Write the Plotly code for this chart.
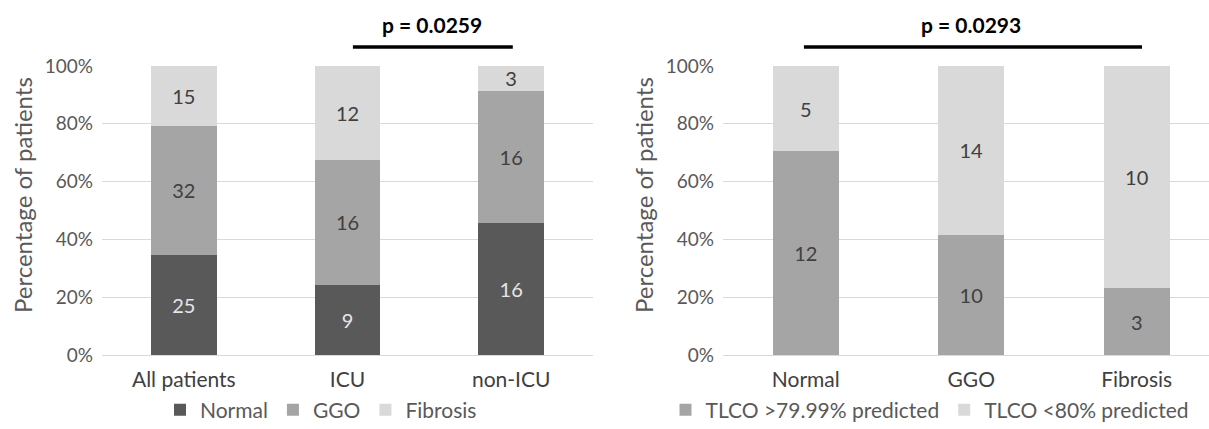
import plotly.graph_objects as go

# ---- data ----
groups_left = ["All patients", "ICU", "non-ICU"]
normal = [25, 9, 16]
ggo = [32, 16, 16]
fibrosis = [15, 12, 3]

groups_right = ["Normal", "GGO", "Fibrosis"]
tlco_high = [12, 10, 3]
tlco_low = [5, 14, 10]

p_left = "p = 0.0259"
p_right = "p = 0.0293"
y_title = "Percentage of patients"
y_ticks = [0, 20, 40, 60, 80, 100]
y_tick_labels = ["0%", "20%", "40%", "60%", "80%", "100%"]

# ---- style ----
FONT = "Lato"
C_DARK = "#595959"
C_MID = "#a5a5a5"
C_LIGHT = "#d9d9d9"
TXT = "#595959"
W, H = 1209, 429
TOP, BOT = 66, 355          # pixel rows of 100% and 0%
PH = BOT - TOP

def py(pix):  # pixel row -> paper y
    return (BOT - pix) / PH

fig = go.Figure()

def add_bar(x, y, name, color, txtcolor, xa, ya, legend):
    fig.add_trace(go.Bar(
        x=x, y=y, name=name, marker=dict(color=color, line=dict(width=0)),
        text=[str(v) for v in y], textposition="inside", insidetextanchor="middle",
        textangle=0, constraintext="none",
        textfont=dict(family=FONT, size=20, color=txtcolor),
        xaxis=xa, yaxis=ya, legend=legend, hoverinfo="skip",
    ))

add_bar(groups_left, normal, "Normal", C_DARK, "#e6e6e6", "x", "y", "legend")
add_bar(groups_left, ggo, "GGO", C_MID, "#404040", "x", "y", "legend")
add_bar(groups_left, fibrosis, "Fibrosis", C_LIGHT, "#404040", "x", "y", "legend")
add_bar(groups_right, tlco_high, "TLCO >79.99% predicted", C_MID, "#404040", "x2", "y2", "legend2")
add_bar(groups_right, tlco_low, "TLCO <80% predicted", C_LIGHT, "#404040", "x2", "y2", "legend2")

axis_y = dict(range=[0, 100], tickvals=y_ticks, ticktext=y_tick_labels,
              showgrid=True, gridcolor="#d9d9d9", gridwidth=1, zeroline=False,
              showline=False, ticks="", ticklabelstandoff=8, automargin=False,
              tickfont=dict(family=FONT, size=19, color=TXT),
              domain=[0, 1])
axis_x = dict(showgrid=False, showline=True, linecolor="#d9d9d9", linewidth=1,
              ticks="", automargin=False, ticklabelstandoff=6,
              tickfont=dict(family=FONT, size=21, color="#404040"))

leg_y = py(410)
fig.update_layout(
    width=W, height=H, margin=dict(l=0, r=0, t=TOP, b=H - BOT, autoexpand=False),
    paper_bgcolor="white", plot_bgcolor="white",
    barmode="stack", barnorm="percent", bargap=0.6,
    font=dict(family=FONT, color=TXT),
    xaxis=dict(axis_x, domain=[102 / W, 593 / W], range=[-0.5, 2.5]),
    yaxis=dict(axis_y, anchor="x"),
    xaxis2=dict(axis_x, domain=[723 / W, 1.0], range=[-0.5, 2.437], anchor="y2"),
    yaxis2=dict(axis_y, anchor="x2"),
    showlegend=True,
    legend=dict(orientation="h", x=321 / W, xanchor="center", y=leg_y, yanchor="middle",
                font=dict(family=FONT, size=21, color=TXT), itemwidth=30,
                traceorder="normal", bgcolor="rgba(0,0,0,0)"),
    legend2=dict(orientation="h", x=930 / W, xanchor="center", y=leg_y, yanchor="middle",
                 font=dict(family=FONT, size=21, color=TXT), itemwidth=30,
                 traceorder="normal", bgcolor="rgba(0,0,0,0)"),
)

# y-axis titles
for xpix in (22, 643):
    fig.add_annotation(x=xpix / W, xref="paper", y=py(195), yref="paper", text=y_title,
                       textangle=-90, showarrow=False, xanchor="center", yanchor="middle",
                       font=dict(family=FONT, size=24, color=TXT))

# significance bars
line_y = py(47)
text_y = py(24)
fig.add_shape(type="line", xref="x", yref="paper", x0=1.033, x1=2.01, y0=line_y, y1=line_y,
              line=dict(color="black", width=3.5))
fig.add_shape(type="line", xref="x2", yref="paper", x0=-0.011, x1=2.032, y0=line_y, y1=line_y,
              line=dict(color="black", width=3.5))
fig.add_annotation(x=1.515, xref="x", y=text_y, yref="paper", text="<b>" + p_left + "</b>",
                   showarrow=False, xanchor="center", yanchor="middle",
                   font=dict(family=FONT, size=21, color="black"))
fig.add_annotation(x=0.998, xref="x2", y=text_y, yref="paper", text="<b>" + p_right + "</b>",
                   showarrow=False, xanchor="center", yanchor="middle",
                   font=dict(family=FONT, size=21, color="black"))

fig.write_html("out.html", config={"displayModeBar": False},
               post_script="document.body.style.margin='0';document.body.style.overflow='hidden';")
